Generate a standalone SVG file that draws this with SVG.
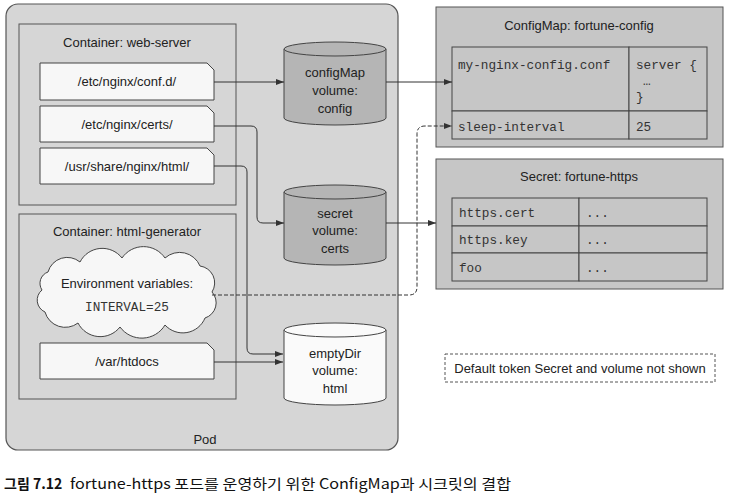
<svg xmlns="http://www.w3.org/2000/svg" width="729" height="496" viewBox="0 0 729 496">
<style>
  .lbl{font-family:"Liberation Sans",Arial,sans-serif;font-size:13px;fill:#222;text-anchor:middle}
  .mono{font-family:"Liberation Mono","Courier New",monospace;font-size:12.7px;fill:#333}
  .pod{fill:#d6d6d6;stroke:#555;stroke-width:1.2}
  .cont{fill:#d6d6d6;stroke:#555;stroke-width:1}
  .mount{fill:#f7f7f7;stroke:#444;stroke-width:1}
  .cyl{fill:#b5b5b5;stroke:#444;stroke-width:1}
  .cylw{fill:#fafafa;stroke:#444;stroke-width:1}
  .res{fill:#c6c6c6;stroke:#555;stroke-width:1}
  .cell{fill:#c6c6c6;stroke:#444;stroke-width:1}
  .conn{fill:none;stroke:#333;stroke-width:1}
  .dash{fill:none;stroke:#333;stroke-width:1;stroke-dasharray:4 2}
</style>
<defs>
  <marker id="arr" viewBox="0 0 8 6" refX="8" refY="3" markerWidth="8" markerHeight="6" markerUnits="userSpaceOnUse" orient="auto">
    <path d="M0,0 L8,3 L0,6 Z" fill="#333"/>
  </marker>
</defs>
<rect width="729" height="496" fill="#ffffff"/>

<g id="pod">
  <rect class="pod" x="6" y="4" width="392" height="446" rx="12"/>
  <text class="lbl" x="205" y="444">Pod</text>
</g>

<g id="container-web-server">
  <rect class="cont" x="19" y="24" width="217" height="181"/>
  <text class="lbl" x="127" y="47">Container: web-server</text>
</g>
<g id="mount-confd">
  <path class="mount" d="M40,63 H207 L214,70 V100 H40 Z"/>
  <text class="lbl" x="127" y="86">/etc/nginx/conf.d/</text>
</g>
<g id="mount-certs">
  <path class="mount" d="M40,106 H207 L214,113 V142 H40 Z"/>
  <text class="lbl" x="127" y="129">/etc/nginx/certs/</text>
</g>
<g id="mount-html">
  <path class="mount" d="M40,148 H207 L214,155 V184 H40 Z"/>
  <text class="lbl" x="127" y="171">/usr/share/nginx/html/</text>
</g>

<g id="container-html-generator">
  <rect class="cont" x="19" y="214" width="217" height="185"/>
  <text class="lbl" x="127" y="236">Container: html-generator</text>
</g>
<g id="env-cloud">
  <path class="mount" d="M48,272 A20,20 0 0 1 80,262 A25,25 0 0 1 122,258 A26,26 0 0 1 165,258 A22,22 0 0 1 200,266 A17,17 0 0 1 212,292 A16,16 0 0 1 205,318 A24,24 0 0 1 165,325 A27,27 0 0 1 120,327 A25,25 0 0 1 78,323 A21,21 0 0 1 45,312 A13,13 0 0 1 42,290 A12,12 0 0 1 48,272 Z"/>
  <text class="lbl" x="127" y="288">Environment variables:</text>
  <text class="mono" x="127" y="311" text-anchor="middle">INTERVAL=25</text>
</g>
<g id="mount-htdocs">
  <path class="mount" d="M40,343 H207 L214,350 V379 H40 Z"/>
  <text class="lbl" x="127" y="366">/var/htdocs</text>
</g>

<g id="vol-config">
  <path class="cyl" d="M284,49 V118 A51,7 0 0 0 386,118 V49"/>
  <ellipse class="cyl" cx="335" cy="49" rx="51" ry="7"/>
  <text class="lbl" x="335" y="77">configMap</text>
  <text class="lbl" x="335" y="95">volume:</text>
  <text class="lbl" x="335" y="113">config</text>
</g>
<g id="vol-certs">
  <path class="cyl" d="M284,192 V258 A51,7 0 0 0 386,258 V192"/>
  <ellipse class="cyl" cx="335" cy="192" rx="51" ry="7"/>
  <text class="lbl" x="335" y="218">secret</text>
  <text class="lbl" x="335" y="235">volume:</text>
  <text class="lbl" x="335" y="253">certs</text>
</g>
<g id="vol-html">
  <path class="cylw" d="M284,330 V398 A51,7 0 0 0 386,398 V330"/>
  <ellipse class="cylw" cx="335" cy="330" rx="51" ry="7"/>
  <text class="lbl" x="335" y="358">emptyDir</text>
  <text class="lbl" x="335" y="375">volume:</text>
  <text class="lbl" x="335" y="393">html</text>
</g>

<g id="configmap-fortune-config">
  <rect class="res" x="436" y="7" width="287" height="140"/>
  <text class="lbl" x="579" y="30">ConfigMap: fortune-config</text>
  <rect class="cell" x="452" y="47" width="177" height="64"/>
  <rect class="cell" x="629" y="47" width="78" height="64"/>
  <rect class="cell" x="452" y="111" width="177" height="28"/>
  <rect class="cell" x="629" y="111" width="78" height="28"/>
  <text class="mono" x="458" y="69">my-nginx-config.conf</text>
  <text class="mono" x="636" y="69">server {</text>
  <text class="mono" x="643" y="85">…</text>
  <text class="mono" x="636" y="101">}</text>
  <text class="mono" x="458" y="131">sleep-interval</text>
  <text class="mono" x="636" y="131">25</text>
</g>

<g id="secret-fortune-https">
  <rect class="res" x="436" y="159" width="287" height="130"/>
  <text class="lbl" x="579" y="181">Secret: fortune-https</text>
  <rect class="cell" x="452" y="198" width="127" height="28"/>
  <rect class="cell" x="579" y="198" width="128" height="28"/>
  <rect class="cell" x="452" y="226" width="127" height="27"/>
  <rect class="cell" x="579" y="226" width="128" height="27"/>
  <rect class="cell" x="452" y="253" width="127" height="28"/>
  <rect class="cell" x="579" y="253" width="128" height="28"/>
  <text class="mono" x="459" y="217">https.cert</text>
  <text class="mono" x="586" y="217">...</text>
  <text class="mono" x="459" y="244">https.key</text>
  <text class="mono" x="586" y="244">...</text>
  <text class="mono" x="459" y="272">foo</text>
  <text class="mono" x="586" y="272">...</text>
</g>

<g id="note">
  <rect x="445" y="354" width="270" height="28" fill="#ffffff" stroke="#555" stroke-width="1" stroke-dasharray="3 2"/>
  <text class="lbl" x="580" y="373">Default token Secret and volume not shown</text>
</g>

<g id="connectors">
  <path class="conn" d="M214,82 H284" marker-end="url(#arr)"/>
  <path class="conn" d="M386,82 H452" marker-end="url(#arr)"/>
  <path class="conn" d="M214,126 H251 Q257,126 257,132 V217 Q257,223 263,223 H284" marker-end="url(#arr)"/>
  <path class="conn" d="M214,166 H241 Q247,166 247,172 V348 Q247,354 253,354 H283" marker-end="url(#arr)"/>
  <path class="conn" d="M214,362 H283" marker-end="url(#arr)"/>
  <path class="conn" d="M386,223 H436" marker-end="url(#arr)"/>
  <path class="dash" d="M212,295 H409 Q417,295 417,287 V134 Q417,126 425,126 H452" marker-end="url(#arr)"/>
</g>

<g id="caption">
  <text x="4" y="489" font-family="'Noto Sans CJK KR','Noto Sans',sans-serif" font-size="14" fill="#111"><tspan font-weight="bold">그림 7.12</tspan><tspan x="70" font-size="14" textLength="441" lengthAdjust="spacingAndGlyphs">fortune-https 포드를 운영하기 위한 ConfigMap과 시크릿의 결합</tspan></text>
</g>
</svg>
